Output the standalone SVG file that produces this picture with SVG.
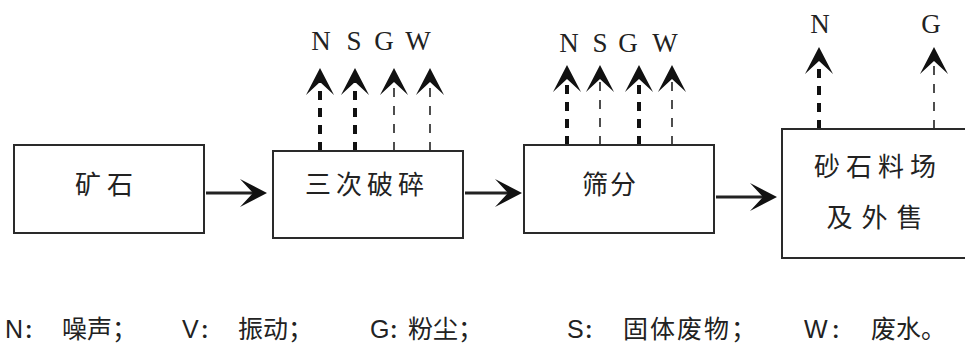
<svg xmlns="http://www.w3.org/2000/svg" width="965" height="350" viewBox="0 0 965 350">
<style>
.box{fill:#fff;stroke:#2a2a2a;stroke-width:2}
.lbl{font-family:"Liberation Sans","Noto Sans CJK SC",sans-serif;font-size:26px;fill:#222;text-anchor:middle}
.em{font-family:"Liberation Serif","Times New Roman",serif;font-size:27px;fill:#222;text-anchor:middle}
.leg{font-family:"Liberation Sans","Noto Sans CJK SC",sans-serif;font-size:25px;fill:#222}
.col{font-size:19px;font-weight:bold}
.flow{stroke:#222;stroke-width:3;fill:none}
.thick{stroke:#111;stroke-width:4;stroke-dasharray:9 8;fill:none}
.thin{stroke:#222;stroke-width:1.6;stroke-dasharray:9 9;fill:none}
</style>
<defs>
<marker id="ah" markerUnits="userSpaceOnUse" viewBox="-15 -15 32 30" markerWidth="32" markerHeight="30" refX="0" refY="0" orient="auto">
<path d="M-13,-14 L14,0 L-13,14 L0,0 Z" fill="#111"/>
</marker>
</defs>
<g id="connectors">
<line class="flow" x1="206" y1="193" x2="253" y2="193" marker-end="url(#ah)"/>
<line class="flow" x1="465" y1="193" x2="508" y2="193" marker-end="url(#ah)"/>
<line class="flow" x1="716" y1="197" x2="763" y2="197" marker-end="url(#ah)"/>
<line class="thick" x1="320" y1="151" x2="320" y2="82" marker-end="url(#ah)"/>
<line class="thick" x1="355" y1="151" x2="355" y2="82" marker-end="url(#ah)"/>
<line class="thin" x1="394" y1="151" x2="394" y2="82" marker-end="url(#ah)"/>
<line class="thin" x1="430" y1="151" x2="430" y2="82" marker-end="url(#ah)"/>
<line class="thick" x1="567" y1="145" x2="567" y2="79" marker-end="url(#ah)"/>
<line class="thin" x1="600" y1="145" x2="600" y2="79" marker-end="url(#ah)"/>
<line class="thick" x1="639" y1="145" x2="639" y2="79" marker-end="url(#ah)"/>
<line class="thin" x1="672" y1="145" x2="672" y2="79" marker-end="url(#ah)"/>
<line class="thick" x1="819" y1="129" x2="819" y2="61" marker-end="url(#ah)"/>
<line class="thin" x1="934" y1="129" x2="934" y2="61" marker-end="url(#ah)"/>
</g>
<g id="n-ore">
<rect class="box" x="14" y="145" width="190" height="88"/>
<text class="lbl" x="107" y="194" letter-spacing="6">矿石</text>
</g>
<g id="n-crush">
<rect class="box" x="273" y="151" width="190" height="87"/>
<text class="lbl" x="367" y="194" letter-spacing="5">三次破碎</text>
<text class="em" x="321" y="50">N</text>
<text class="em" x="354" y="50">S</text>
<text class="em" x="384" y="50">G</text>
<text class="em" x="418" y="50">W</text>
</g>
<g id="n-screen">
<rect class="box" x="524" y="145" width="190" height="88"/>
<text class="lbl" x="610" y="194" letter-spacing="2">筛分</text>
<text class="em" x="569" y="52">N</text>
<text class="em" x="600" y="52">S</text>
<text class="em" x="628" y="52">G</text>
<text class="em" x="665" y="52">W</text>
</g>
<g id="n-yard">
<rect class="box" x="782" y="129" width="190" height="129"/>
<text class="lbl" x="878" y="176" letter-spacing="6">砂石料场</text>
<text class="lbl" x="879" y="227" letter-spacing="9">及外售</text>
<text class="em" x="820" y="33">N</text>
<text class="em" x="931" y="33">G</text>
</g>
<g id="legend">
<text class="leg" y="338"><tspan x="5">N</tspan><tspan class="col" x="24">：</tspan><tspan x="62">噪声；</tspan></text>
<text class="leg" y="338"><tspan x="182">V</tspan><tspan class="col" x="200">：</tspan><tspan x="238">振动；</tspan></text>
<text class="leg" y="338"><tspan x="370">G</tspan><tspan class="col" x="389">：</tspan><tspan x="408">粉尘；</tspan></text>
<text class="leg" y="338"><tspan x="567">S</tspan><tspan class="col" x="584">：</tspan><tspan x="623" letter-spacing="2">固体废物；</tspan></text>
<text class="leg" y="338"><tspan x="804">W</tspan><tspan class="col" x="831">：</tspan><tspan x="871">废水。</tspan></text>
</g>
</svg>
